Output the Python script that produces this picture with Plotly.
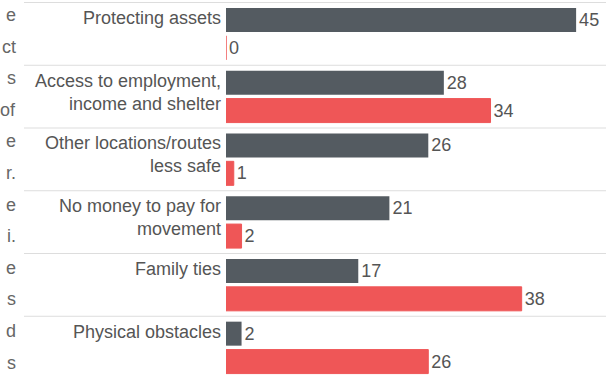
"""
reasons for staying - grouped horizontal bars
"""
import plotly.graph_objects as go

categories = [
    "Protecting assets",
    "Access to employment,<br>income and shelter",
    "Other locations/routes<br>less safe",
    "No money to pay for<br>movement",
    "Family ties",
    "Physical obstacles",
]
dark_values = [45, 28, 26, 21, 17, 2]
red_values = [0, 34, 1, 2, 38, 26]

# clipped paragraph on the left of the page
side_text = ["e", "ct", "s", "of", "e", "r.", "e", "i.", "e", "s", "d", "s"]

DARK = "#545b61"
RED = "#ef5657"
TEXT = "#555555"

W, H = 614, 379
L, R, T, B = 226, 7, 2, 0
pw = W - L - R
ph = H - T - B

fig = go.Figure()
fig.add_trace(go.Bar(
    y=categories, x=dark_values, orientation="h",
    marker=dict(color=DARK, line=dict(width=0)),
    text=dark_values, textposition="outside", cliponaxis=False,
    textfont=dict(size=18, color=TEXT),
))
fig.add_trace(go.Bar(
    y=categories, x=red_values, orientation="h",
    marker=dict(color=RED, line=dict(color=RED, width=1)),
    text=red_values, textposition="outside", cliponaxis=False,
    textfont=dict(size=18, color=TEXT),
))

# separators that run through the label column too
for i in range(len(categories)):
    fig.add_shape(type="line", xref="paper", yref="y",
                  x0=(24 - L) / pw, x1=(606 - L) / pw, y0=i - 0.5, y1=i - 0.5,
                  line=dict(color="#dddddd", width=1), layer="below")

# category labels, aligned to the first bar of each group
for c in categories:
    fig.add_annotation(x=0, xref="paper", y=c, yref="y",
                       text=c, showarrow=False, xanchor="right", yanchor="top",
                       align="right", xshift=-3, yshift=28,
                       font=dict(size=18, color=TEXT))

for i, t in enumerate(side_text):
    yc = 15 + i * 31.6
    fig.add_annotation(x=(18 - L) / pw, xref="paper", y=1 - (yc - T) / ph, yref="paper",
                       text=t, showarrow=False, xanchor="right", yanchor="middle",
                       font=dict(size=18, color="#666666"))

fig.update_layout(
    width=W, height=H,
    margin=dict(l=L, r=R, t=T, b=B, pad=0),
    barmode="group", bargap=0.11, bargroupgap=0.14,
    showlegend=False,
    plot_bgcolor="white", paper_bgcolor="white",
    font=dict(family="Liberation Sans, Arial", size=18, color=TEXT),
    xaxis=dict(range=[0, (606 - L) / 7.76], visible=False, fixedrange=True),
    yaxis=dict(autorange="reversed", showticklabels=False, showgrid=False,
               zeroline=False, showline=False, ticks="", fixedrange=True),
)

fig.write_html("out.html", config={"displayModeBar": False},
               post_script="document.body.style.margin='0';")
